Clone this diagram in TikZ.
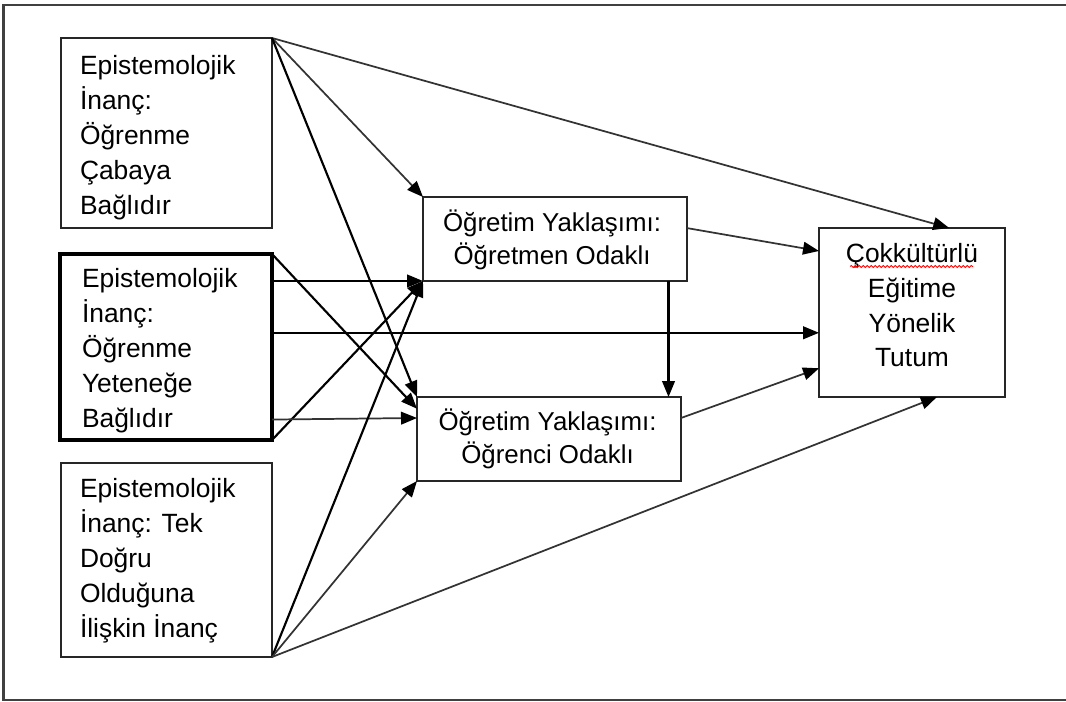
\documentclass[tikz,border=0pt]{standalone}
\usepackage{fontspec}
\setmainfont{Liberation Sans}
\usetikzlibrary{arrows.meta,calc,decorations.pathmorphing}

% type sizes for the three kinds of boxes
\newcommand\sidesize{\fontsize{19.8pt}{26.25pt}\selectfont}
\newcommand\midsize{\fontsize{19.4pt}{24.75pt}\selectfont}
\newcommand\goalsize{\fontsize{19.8pt}{26pt}\selectfont}

\begin{document}
\begin{tikzpicture}[x=0.75pt,y=-0.75pt,
  every node/.style={inner sep=0pt,outer sep=0pt},
  bx/.style 2 args={draw=black!85,line width=1.5pt,rectangle,
    minimum width=#1*0.75pt,minimum height=#2*0.75pt},
  heavy/.style={line width=3pt,draw=black},
  sidetxt/.style={font=\sidesize,align=left,anchor=west},
  midtxt/.style={font=\midsize,align=center},
  goaltxt/.style={font=\goalsize,align=center},
  link/.style={-{Triangle[length=12pt,width=9.5pt]},line width=1.6pt,black},
  faint/.style={-{Triangle[length=12pt,width=9.5pt,color=black]},line width=1.3pt,black!80}]

\useasboundingbox (0,0) rectangle (1066,702);
% outer frame (its right edge runs past the page)
\draw[black!75,line width=1.6pt] (3.5,5) rectangle (1080,700);

% boxes
\node[bx={211}{190}] (A) at (166.5,133) {};
\node[bx={212}{186},heavy] (B) at (166,347) {};
\node[bx={211}{194}] (C) at (166.5,560) {};
\node[bx={264}{84}] (D) at (555,239) {};
\node[bx={264}{84}] (E) at (549,439) {};
\node[bx={186}{169}] (F) at (912,312.5) {};

% box texts
\node[sidetxt] (At) at (80,137.8) {Epistemolojik\\İnanç:\\Öğrenme\\Çabaya\\Bağlıdır};
\node[sidetxt] (Bt) at (82,350.3) {Epistemolojik\\İnanç:\\Öğrenme\\Yeteneğe\\Bağlıdır};
\node[sidetxt] (Ct) at (80,560.3) {Epistemolojik\\İnanç: Tek\\Doğru\\Olduğuna\\İlişkin İnanç};
\node[midtxt] (Dt) at (552,239.8) {Öğretim Yaklaşımı:\\Öğretmen Odaklı};
\node[midtxt] (Et) at (547.5,438.8) {Öğretim Yaklaşımı:\\Öğrenci Odaklı};
\node[goaltxt] (Ft) at (912,305.5) {Çokkültürlü\\Eğitime\\Yönelik\\Tutum};
% spell-check squiggle under the first word
\draw[red,line width=0.6pt,decorate,decoration={snake,amplitude=0.8pt,segment length=3pt}]
  (850,266.5) -- (973,266.5);

% points on the box edges
\coordinate (f1) at ($(F.north west)!0.136!(F.south west)$);
\coordinate (f2) at ($(F.north west)!0.62!(F.south west)$);
\coordinate (f3) at ($(F.north west)!0.83!(F.south west)$);
\coordinate (ftop) at ($(F.north west)!0.70!(F.north east)$);
\coordinate (fbot) at ($(F.south west)!0.634!(F.south east)$);
\coordinate (e1) at ($(E.north west)!0.14!(E.south west)$);
\coordinate (e2) at ($(E.north west)!0.25!(E.south west)$);
\coordinate (e3) at ($(E.north east)!0.25!(E.south east)$);
\coordinate (b1) at ($(B.north east)!0.89!(B.south east)$);
\coordinate (d1) at ($(D.north east)!0.37!(D.south east)$);
\coordinate (d2) at ($(D.south west)!0.93!(D.south east)$);

% from the first belief
\draw[faint] (A.north east) -- (ftop);
\draw[faint] (A.north east) -- (D.north west);
\draw[link] (A.north east) -- (E.north west);
% from the second belief
\draw[link] (B.north east) -- (e1);
\draw[link] (B.east |- D.south west) -- (D.south west);
\draw[link] (B.east |- f2) -- (f2);
\draw[link] (B.south east) -- (D.south west);
\draw[faint] (b1) -- (e2);
% from the third belief
\draw[link] (C.south east) -- (D.south west);
\draw[faint] (C.south east) -- (E.south west);
\draw[faint] (C.south east) -- (fbot);
% between the approaches and the attitude
\draw[faint] (d1) -- (f1);
\draw[link] (d2) -- (d2 |- E.north);
\draw[faint] (e3) -- (f3);
\end{tikzpicture}
\end{document}
